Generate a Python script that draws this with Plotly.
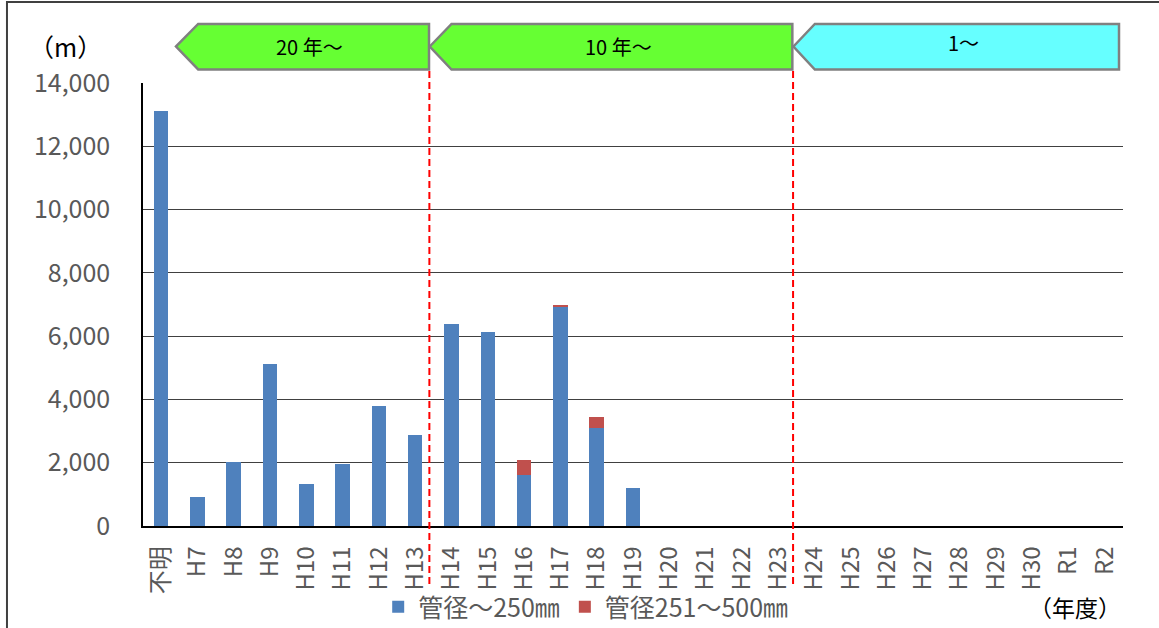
import plotly.graph_objects as go

# 布設年度
years = ["不明", "H7", "H8", "H9", "H10", "H11", "H12", "H13", "H14", "H15",
         "H16", "H17", "H18", "H19", "H20", "H21", "H22", "H23", "H24", "H25",
         "H26", "H27", "H28", "H29", "H30", "R1", "R2"]

# 管径～250㎜ の延長 (m)
small_dia = [13120, 925, 2010, 5120, 1330, 1970, 3800, 2870, 6380, 6120,
             1600, 6910, 3090, 1190, None, None, None, None, None, None,
             None, None, None, None, None, None, None]

# 管径251～500㎜ の延長 (m)
large_dia = [None, None, None, None, None, None, None, None, None, None,
             480, 70, 350, None, None, None, None, None, None, None,
             None, None, None, None, None, None, None]

y_ticks = [0, 2000, 4000, 6000, 8000, 10000, 12000, 14000]
y_tick_text = ["0", "2,000", "4,000", "6,000", "8,000", "10,000", "12,000", "14,000"]

# 経過年数の区分: (ラベル, 矢印先端, 本体左端, 本体右端, 塗り色) ※カテゴリ位置
periods = [
    ("20 年～", 0.41, 1.02, 7.38, "#66FF33"),
    ("10 年～", 7.40, 8.00, 17.39, "#66FF33"),
    ("1～", 17.42, 18.01, 26.39, "#66FFFF"),
]
period_bounds = [7.39, 17.41]

N = len(years)
FONT_NUM = "Liberation Sans Narrow, Noto Sans CJK JP, sans-serif"
FONT_JP = "Noto Sans CJK JP, sans-serif"
GREY = "#595959"


def cat_to_paper(c):
    return (c + 0.5) / N


fig = go.Figure()
fig.add_trace(go.Bar(x=years, y=small_dia, name="管径～250㎜",
                     marker=dict(color="#4F81BD", line=dict(width=0)),
                     width=0.4))
fig.add_trace(go.Bar(x=years, y=large_dia, name="管径251～500㎜",
                     marker=dict(color="#C0504D", line=dict(width=0)),
                     width=0.4))

shapes = []
# 外枠
shapes.append(dict(type="rect", xref="paper", yref="paper",
                   x0=-0.1388, x1=1.05, y0=-0.26, y1=1.1828,
                   line=dict(color="#404040", width=2), fillcolor="rgba(0,0,0,0)",
                   layer="below"))

# 区分境界の破線
for b in period_bounds:
    xp = cat_to_paper(b)
    shapes.append(dict(type="line", xref="paper", yref="paper",
                       x0=xp, x1=xp, y0=-0.131, y1=1.031,
                       line=dict(color="#FF0000", width=2, dash="7px,4px")))

# 区分の矢印
y_top, y_mid, y_bot = 1.1332, 1.0824, 1.0305
annotations = []
for label, tip, left, right, fill in periods:
    xt, xl, xr = cat_to_paper(tip), cat_to_paper(left), cat_to_paper(right)
    path = (f"M {xt} {y_mid} L {xl} {y_top} L {xr} {y_top} "
            f"L {xr} {y_bot} L {xl} {y_bot} Z")
    shapes.append(dict(type="path", xref="paper", yref="paper", path=path,
                       fillcolor=fill, line=dict(color="#808080", width=2.5)))
    ty = y_mid + (0.009 if label == "1～" else 0)
    annotations.append(dict(text=label, xref="paper", yref="paper",
                            x=(xl + xr) / 2 - 0.004, y=ty, showarrow=False,
                            xanchor="center", yanchor="middle",
                            font=dict(family=FONT_JP, size=20, color="#000000")))

annotations.append(dict(text="（m）", xref="paper", yref="paper",
                        x=-0.079, y=1.083, showarrow=False,
                        xanchor="center", yanchor="middle",
                        font=dict(family=FONT_JP, size=25, color="#000000")))
annotations.append(dict(text="（年度）", xref="paper", yref="paper",
                        x=0.9995, y=-0.183, showarrow=False,
                        xanchor="right", yanchor="middle",
                        font=dict(family=FONT_JP, size=23, color="#000000")))

fig.update_layout(
    width=1159, height=628,
    margin=dict(l=143, r=36, t=83, b=102, autoexpand=False),
    barmode="stack",
    paper_bgcolor="#FFFFFF", plot_bgcolor="#FFFFFF",
    showlegend=True,
    legend=dict(orientation="h", x=0.240, y=-0.183, xanchor="left",
                yanchor="middle", font=dict(family=FONT_JP, size=25, color=GREY),
                itemwidth=30, traceorder="normal", bgcolor="rgba(0,0,0,0)"),
    shapes=shapes,
    annotations=annotations,
    xaxis=dict(type="category", range=[-0.5, N - 0.5], tickangle=-90,
               showline=True, linecolor="#000000", linewidth=1.5,
               showgrid=False, ticks="", ticklabelstandoff=9,
               tickfont=dict(family=FONT_NUM, size=24, color=GREY),
               automargin=False, fixedrange=True),
    yaxis=dict(range=[0, 14000], tickvals=y_ticks, ticktext=y_tick_text,
               showline=True, linecolor="#000000", linewidth=1.5,
               showgrid=True, gridcolor="#404040", gridwidth=1,
               zeroline=False, ticks="", ticklabelstandoff=26,
               tickfont=dict(family=FONT_NUM, size=25, color=GREY),
               automargin=False, fixedrange=True),
)

fig.write_html("out.html")
